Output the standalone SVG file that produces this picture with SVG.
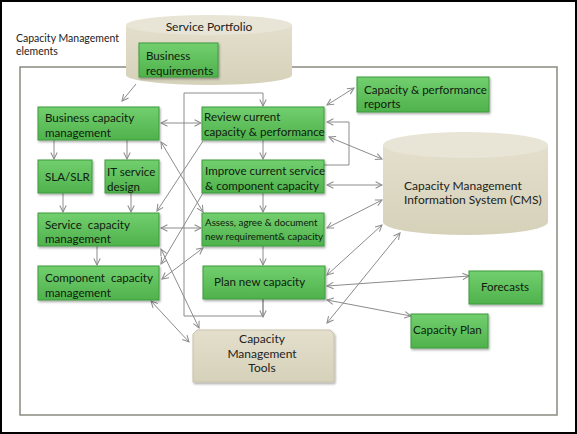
<svg xmlns="http://www.w3.org/2000/svg" width="577" height="434" viewBox="0 0 577 434">
<defs>
<linearGradient id="g" x1="0" y1="0" x2="0" y2="1">
<stop offset="0" stop-color="#72cf6e"/>
<stop offset="1" stop-color="#4fb24c"/>
</linearGradient>
<linearGradient id="tan" x1="0" y1="0" x2="0" y2="1">
<stop offset="0" stop-color="#e3dfcc"/>
<stop offset="1" stop-color="#d6d1b9"/>
</linearGradient>
<marker id="a" viewBox="0 0 10 10" refX="9" refY="5" markerWidth="8" markerHeight="8" markerUnits="userSpaceOnUse" orient="auto-start-reverse">
<path d="M1,1 L9,5 L1,9" fill="none" stroke="#8c8c8c" stroke-width="1.3"/>
</marker>
<filter id="sh" x="-10%" y="-10%" width="130%" height="140%">
<feDropShadow dx="1" dy="1.5" stdDeviation="1" flood-color="#000" flood-opacity="0.35"/>
</filter>
</defs>
<style>
.box{fill:url(#g);stroke:#3f9a3d;stroke-width:1;filter:url(#sh)}
.t{font-family:Lato,"Liberation Sans",sans-serif;font-size:11.6px;fill:#10200f}
.ts{font-family:Lato,"Liberation Sans",sans-serif;font-size:9.8px;fill:#10200f}
.tk{font-family:Lato,"Liberation Sans",sans-serif;font-size:12px;fill:#222}
.c{fill:none;stroke:#8c8c8c;stroke-width:1}
.cyl{fill:url(#tan);stroke:none}
.cap{fill:#e8e5d6}
</style>
<rect x="1" y="1" width="575" height="432" fill="#fff" stroke="#000" stroke-width="2"/>
<rect x="20" y="67" width="537" height="348" fill="none" stroke="#8a8a80" stroke-width="1.5"/>
<text class="tk" x="16" y="42" style="font-size:10.5px">Capacity Management</text>
<text class="tk" x="16" y="55" style="font-size:10.5px">elements</text>

<g id="service-portfolio">
<path class="cyl" d="M126,25 L126,75 A83,10 0 0 0 292,75 L292,25 Z"/>
<ellipse class="cap" cx="209" cy="25" rx="83" ry="10"/>
<text class="tk" x="209" y="31" text-anchor="middle">Service Portfolio</text>
</g>
<g id="business-requirements">
<rect class="box" x="139" y="43" width="79" height="34"/>
<text class="t" x="146" y="60">Business</text>
<text class="t" x="146" y="75">requirements</text>
</g>
<g id="cms">
<path class="cyl" d="M383,145 L383,222 A82.5,13 0 0 0 548,222 L548,145 Z"/>
<ellipse class="cap" cx="465.5" cy="145" rx="82.5" ry="13"/>
<text class="tk" x="404" y="190">Capacity Management</text>
<text class="tk" x="404" y="204">Information System (CMS)</text>
</g>
<g id="tools">
<path d="M197,330 L330,330 L334,334 L334,382 L193,382 L193,334 Z" fill="url(#tan)" stroke="#c8c3ab" filter="url(#sh)"/>
<text class="tk" x="262" y="343" text-anchor="middle">Capacity</text>
<text class="tk" x="262" y="358" text-anchor="middle">Management</text>
<text class="tk" x="262" y="372" text-anchor="middle">Tools</text>
</g>

<g id="connectors">
<line class="c" x1="136" y1="84" x2="122" y2="101" marker-end="url(#a)"/>
<line class="c" x1="161" y1="123" x2="201" y2="123" marker-start="url(#a)" marker-end="url(#a)"/>
<polyline class="c" points="263,299 263,316 184,316 184,93 263,93 263,106" marker-end="url(#a)"/>
<line class="c" x1="263" y1="299" x2="263" y2="317" marker-end="url(#a)"/>
<line class="c" x1="263" y1="140" x2="263" y2="159" marker-end="url(#a)"/>
<line class="c" x1="263" y1="193" x2="263" y2="212" marker-end="url(#a)"/>
<line class="c" x1="263" y1="246" x2="263" y2="265" marker-end="url(#a)"/>
<line class="c" x1="54" y1="140" x2="54" y2="159" marker-end="url(#a)"/>
<line class="c" x1="127" y1="140" x2="127" y2="159" marker-end="url(#a)"/>
<line class="c" x1="63" y1="193" x2="63" y2="212" marker-end="url(#a)"/>
<line class="c" x1="131" y1="193" x2="131" y2="212" marker-end="url(#a)"/>
<line class="c" x1="97" y1="246" x2="97" y2="265" marker-end="url(#a)"/>
<line class="c" x1="161" y1="228" x2="201" y2="228" marker-start="url(#a)" marker-end="url(#a)"/>
<line class="c" x1="327" y1="105" x2="354" y2="88" marker-start="url(#a)" marker-end="url(#a)"/>
<polyline class="c" points="324,165 349,165 349,122 327,122" marker-end="url(#a)"/>
<line class="c" x1="329" y1="137" x2="382" y2="159" marker-start="url(#a)" marker-end="url(#a)"/>
<line class="c" x1="327" y1="185" x2="382" y2="185" marker-start="url(#a)" marker-end="url(#a)"/>
<line class="c" x1="327" y1="228" x2="382" y2="200" marker-start="url(#a)" marker-end="url(#a)"/>
<line class="c" x1="327" y1="275" x2="382" y2="225" marker-start="url(#a)" marker-end="url(#a)"/>
<line class="c" x1="327" y1="323" x2="400" y2="233" marker-start="url(#a)" marker-end="url(#a)"/>
<line class="c" x1="327" y1="286" x2="469" y2="276" marker-start="url(#a)" marker-end="url(#a)"/>
<line class="c" x1="327" y1="300" x2="411" y2="316" marker-start="url(#a)" marker-end="url(#a)"/>
<line class="c" x1="161" y1="142" x2="203" y2="212" marker-start="url(#a)" marker-end="url(#a)"/>
<line class="c" x1="203" y1="141" x2="157" y2="211" marker-end="url(#a)"/>
<line class="c" x1="203" y1="193" x2="161" y2="264" marker-end="url(#a)"/>
<line class="c" x1="162" y1="279" x2="203" y2="248" marker-start="url(#a)" marker-end="url(#a)"/>
<line class="c" x1="161" y1="249" x2="199" y2="328" marker-start="url(#a)" marker-end="url(#a)"/>
<line class="c" x1="151" y1="301" x2="189" y2="342" marker-start="url(#a)" marker-end="url(#a)"/>
</g>

<g id="business-capacity-management">
<rect class="box" x="38" y="107" width="121" height="33"/>
<text class="t" x="45" y="122">Business capacity</text>
<text class="t" x="45" y="137">management</text>
</g>
<g id="sla-slr">
<rect class="box" x="38" y="160" width="54" height="33"/>
<text class="t" x="45" y="181">SLA/SLR</text>
</g>
<g id="it-service-design">
<rect class="box" x="105" y="160" width="54" height="33"/>
<text class="t" x="107" y="176">IT service</text>
<text class="t" x="107" y="191">design</text>
</g>
<g id="service-capacity-management">
<rect class="box" x="38" y="213" width="121" height="33"/>
<text class="t" x="45" y="229" style="white-space:pre">Service  capacity</text>
<text class="t" x="45" y="243">management</text>
</g>
<g id="component-capacity-management">
<rect class="box" x="38" y="266" width="121" height="34"/>
<text class="t" x="45" y="282" style="white-space:pre">Component  capacity</text>
<text class="t" x="45" y="297">management</text>
</g>
<g id="review-current">
<rect class="box" x="202" y="107" width="122" height="33"/>
<text class="t" x="204" y="121">Review current</text>
<text class="t" x="204" y="136">capacity &amp; performance</text>
</g>
<g id="improve-current">
<rect class="box" x="202" y="160" width="122" height="33"/>
<text class="t" x="205" y="175">Improve current service</text>
<text class="t" x="205" y="190">&amp; component capacity</text>
</g>
<g id="assess-agree">
<rect class="box" x="202" y="213" width="122" height="33"/>
<text class="ts" x="205" y="226">Assess, agree &amp; document</text>
<text class="ts" x="205" y="240">new requirement&amp; capacity</text>
</g>
<g id="plan-new-capacity">
<rect class="box" x="203" y="266" width="122" height="33"/>
<text class="t" x="214" y="286">Plan new capacity</text>
</g>
<g id="capacity-performance-reports">
<rect class="box" x="357" y="77" width="132" height="35"/>
<text class="t" x="364" y="94">Capacity &amp; performance</text>
<text class="t" x="364" y="108">reports</text>
</g>
<g id="forecasts">
<rect class="box" x="469" y="271" width="73" height="33"/>
<text class="t" x="505" y="291" text-anchor="middle">Forecasts</text>
</g>
<g id="capacity-plan">
<rect class="box" x="411" y="314" width="77" height="34"/>
<text class="t" x="413" y="334">Capacity Plan</text>
</g>
</svg>
